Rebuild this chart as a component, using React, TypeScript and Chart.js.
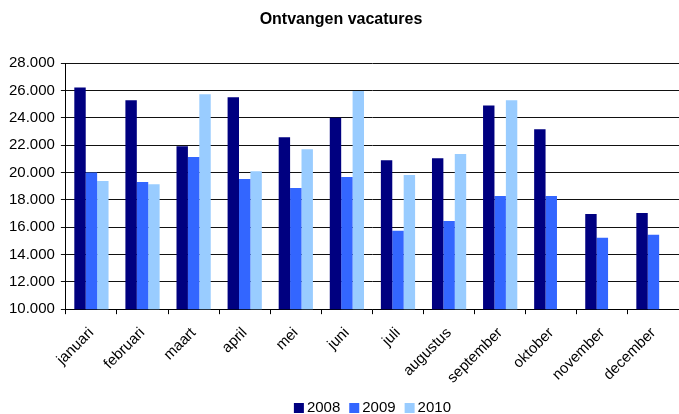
import React, { useEffect, useRef } from "react";
import { Chart, registerables } from "chart.js";

Chart.register(...registerables);

const months = ["januari", "februari", "maart", "april", "mei", "juni", "juli", "augustus", "september", "oktober", "november", "december"];
const v2008 = [26230, 25280, 21930, 25500, 22580, 24000, 20900, 21050, 24900, 23170, 16970, 17040];
const v2009 = [20010, 19300, 21130, 19520, 18860, 19670, 15730, 16460, 18280, 18280, 15220, 15440];
const v2010 = [19380, 19150, 25720, 20100, 21700, 25960, 19810, 21350, 25280, null, null, null];
const seriesLabels = ["2008", "2009", "2010"];
const seriesColors = ["#000080", "#3366FF", "#99CCFF"];
const titleText = "Ontvangen vacatures";

const FONT = "'Liberation Sans', Arial, sans-serif";

const compactLegend = {
  id: "compactLegend",
  afterDraw(chart: any) {
    const ctx = chart.ctx as CanvasRenderingContext2D;
    const area = chart.chartArea;
    const ds = chart.data.datasets;
    ctx.save();
    ctx.font = `15px ${FONT}`;
    ctx.textBaseline = "middle";
    ctx.textAlign = "left";
    const box = 10, gapBox = 3, gapItem = 9;
    const widths = ds.map((d: any) => box + gapBox + ctx.measureText(d.label).width);
    const total = widths.reduce((a: number, b: number) => a + b, 0) + gapItem * (ds.length - 1);
    let x = (area.left + area.right) / 2 - total / 2;
    const cy = 408;
    ds.forEach((d: any, i: number) => {
      ctx.fillStyle = d.backgroundColor;
      ctx.fillRect(x, cy - box / 2, box, box);
      ctx.fillStyle = "#000";
      ctx.fillText(d.label, x + box + gapBox, cy);
      x += widths[i] + gapItem;
    });
    ctx.restore();
  },
};

export default function App() {
  const ref = useRef<HTMLCanvasElement | null>(null);
  useEffect(() => {
    document.body.style.margin = "0";
    const ctx = ref.current!;
    const chart = new Chart(ctx, {
      type: "bar",
      data: {
        labels: months,
        datasets: [v2008, v2009, v2010].map((d, i) => ({
          label: seriesLabels[i],
          data: d as any,
          backgroundColor: seriesColors[i],
          borderWidth: 0,
          categoryPercentage: 0.67,
          barPercentage: 1.0,
        })),
      },
      options: {
        responsive: false,
        animation: false,
        layout: { padding: { top: 0, right: 0, left: 3, bottom: 17 } },
        plugins: {
          title: {
            display: true,
            text: titleText,
            color: "#000",
            font: { family: FONT, size: 16, weight: "bold" },
            padding: { top: 10, bottom: 34 },
          },
          legend: { display: false },
          tooltip: { enabled: false },
        },
        scales: {
          x: {
            grid: { display: true, drawOnChartArea: false, offset: true, color: "#000", tickLength: 5 },
            border: { color: "#000" },
            ticks: {
              color: "#000",
              font: { family: FONT, size: 15 },
              maxRotation: 45,
              minRotation: 45,
              padding: 10,
            },
          },
          y: {
            min: 10000,
            max: 28000,
            grid: { color: "#111", tickLength: 5 },
            border: { color: "#000" },
            ticks: {
              stepSize: 2000,
              color: "#000",
              font: { family: FONT, size: 15 },
              padding: 6,
              callback: (v: any) => {
                const n = Number(v);
                return n.toLocaleString("en-US").replace(/,/g, ".");
              },
            },
          },
        },
      },
      plugins: [compactLegend],
    });
    return () => chart.destroy();
  }, []);
  return (
    <div style={{ position: "absolute", left: 0, top: 0, width: 679, height: 414, background: "#fff" }}>
      <canvas ref={ref} width={679} height={414} />
    </div>
  );
}
